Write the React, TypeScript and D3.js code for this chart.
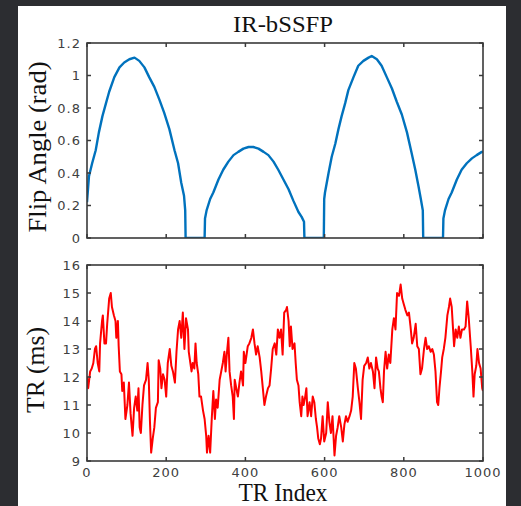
import React from "react";
import * as d3 from "d3";

// Flip angle series (TR index, rad)
const faIdx = [0, 5, 13, 22, 30, 39, 48, 56, 69, 82, 94, 107, 120, 132, 145, 157, 170, 183, 195, 208, 221, 230, 238, 245, 248, 249, 297, 298, 302, 311, 319, 332, 344, 357, 370, 382, 395, 408, 420, 433, 446, 458, 471, 483, 496, 509, 521, 534, 542, 548, 549, 598, 599, 601, 610, 618, 627, 635, 643, 652, 660, 673, 685, 698, 711, 719, 732, 744, 757, 770, 782, 795, 808, 820, 829, 837, 843, 848, 849, 899, 900, 904, 913, 921, 934, 946, 959, 972, 984, 997, 1000];
const faRad = [0.22, 0.38, 0.46, 0.54, 0.65, 0.75, 0.83, 0.9, 0.99, 1.05, 1.08, 1.1, 1.11, 1.09, 1.05, 0.99, 0.93, 0.85, 0.77, 0.67, 0.54, 0.46, 0.34, 0.26, 0.17, 0, 0, 0.12, 0.17, 0.24, 0.28, 0.36, 0.42, 0.47, 0.51, 0.53, 0.55, 0.56, 0.56, 0.55, 0.53, 0.51, 0.47, 0.42, 0.36, 0.3, 0.23, 0.16, 0.13, 0.1, 0, 0, 0.24, 0.28, 0.4, 0.5, 0.58, 0.67, 0.75, 0.83, 0.91, 0.99, 1.06, 1.09, 1.11, 1.12, 1.1, 1.06, 0.99, 0.92, 0.84, 0.76, 0.65, 0.52, 0.42, 0.32, 0.24, 0.17, 0, 0, 0.12, 0.17, 0.24, 0.28, 0.36, 0.42, 0.46, 0.49, 0.51, 0.53, 0.53];

// TR series (TR index, ms)
const trIdx = [0, 3, 8, 12, 16, 20, 23, 27, 31, 33, 38, 40, 44, 48, 51, 56, 60, 63, 68, 72, 74, 78, 80, 83, 87, 89, 93, 97, 102, 106, 110, 115, 119, 123, 127, 130, 133, 136, 140, 144, 149, 153, 156, 159, 162, 166, 170, 174, 179, 181, 185, 188, 192, 196, 200, 204, 209, 213, 217, 222, 226, 230, 234, 238,
  242, 246, 250, 255, 257, 261, 264, 267, 271, 274, 277, 281, 284, 288, 293, 297, 301, 303, 307, 311, 315, 319, 323, 326, 330, 335, 339, 343, 347, 350, 353, 357, 360, 364, 368, 371, 373, 377, 381, 385, 389, 394, 396, 400, 406, 410, 415, 419, 423, 427, 431, 436, 440, 444, 448, 452, 457, 461, 465, 469, 474, 478, 482, 486,
  490, 494, 498, 503, 505, 509, 512, 515, 519, 524, 527, 530, 534, 537, 541, 544, 547, 551, 554, 557, 562, 566, 570, 574, 578, 581, 584, 588, 591, 595, 599, 604, 608, 612, 616, 620, 625, 629, 633, 637, 642, 646, 650, 654, 658, 663, 667, 671, 675, 679, 684, 688, 692, 696, 700, 705, 709, 713, 717, 722, 726, 730, 734,
  737, 741, 744, 747, 750, 754, 758, 762, 766, 771, 775, 779, 783, 788, 792, 796, 800, 804, 809, 813, 817, 821, 825, 830, 834, 838, 842, 846, 851, 855, 859, 863, 868, 872, 876, 880, 884, 887, 890, 894, 897, 901, 905, 910, 914, 917, 921, 924, 927, 931, 935, 939, 943, 947, 952, 956, 960, 964, 969, 973, 976, 979, 983, 986, 990, 994, 998, 1000];
const trMs = [12.0, 11.6, 12.2, 12.3, 12.5, 13.0, 13.1, 12.5, 12.2, 13.2, 14.0, 14.2, 13.2, 13.2, 13.9, 14.8, 15.0, 14.5, 14.2, 14.0, 13.4, 14.0, 13.1, 12.2, 12.1, 11.5, 11.8, 10.5, 11.0, 11.8, 10.7, 9.9, 10.9, 11.3, 10.8, 11.6, 10.2, 10.0, 11.0, 11.7, 11.9, 12.5, 11.9, 10.4, 9.3, 9.8, 10.2, 10.9, 11.1, 12.6, 12.3, 11.6, 12.1, 11.9, 11.3, 12.5, 13.0, 12.4, 12.2, 11.8, 12.9, 13.7, 14.0, 13.4,
  14.3, 13.0, 14.1, 13.7, 12.9, 12.5, 12.2, 12.5, 12.3, 13.2, 12.5, 12.1, 11.3, 11.3, 10.8, 10.5, 9.9, 9.3, 9.9, 9.3, 10.5, 11.5, 10.5, 11.2, 10.9, 11.9, 12.2, 12.5, 12.9, 12.2, 12.8, 13.4, 12.2, 11.7, 11.3, 10.5, 11.9, 11.6, 11.3, 11.8, 12.2, 11.7, 12.9, 12.5, 13.1, 13.2, 13.4, 13.7, 13.2, 12.8, 13.1, 12.7, 12.2, 11.6, 11.0, 11.3, 11.6, 11.7, 12.3, 13.0, 13.2, 12.8, 13.7, 13.4,
  13.7, 12.8, 14.3, 14.4, 14.5, 14.0, 13.1, 13.8, 13.0, 13.2, 12.5, 11.9, 11.7, 11.1, 10.6, 11.3, 11.0, 11.3, 11.6, 10.6, 11.1, 10.6, 11.3, 11.1, 10.5, 10.2, 9.8, 9.6, 9.8, 10.6, 9.7, 10.0, 11.1, 10.4, 10.0, 10.6, 9.2, 9.9, 10.2, 10.6, 10.2, 9.7, 10.3, 10.6, 10.4, 10.6, 10.8, 11.3, 12.5, 12.3, 11.6, 11.1, 10.5, 11.9, 12.4, 12.5, 12.7, 12.3, 12.5, 12.2, 11.6, 12.7, 12.3,
  12.2, 11.6, 11.3, 11.1, 12.2, 12.9, 12.3, 12.8, 12.5, 13.7, 14.1, 13.7, 15.0, 14.9, 15.3, 14.8, 14.6, 14.4, 14.2, 14.3, 13.8, 13.2, 13.4, 13.9, 13.1, 13.0, 12.1, 12.3, 13.0, 13.4, 13.0, 13.1, 12.9, 13.0, 12.8, 12.2, 11.1, 11.0, 11.6, 12.2, 12.7, 13.0, 13.4, 14.2, 14.5, 14.8, 14.5, 13.8, 13.1, 13.7, 13.4, 13.8, 13.4, 13.7, 13.7, 13.8, 14.7, 14.1, 13.1, 12.2, 11.3, 12.1, 12.4, 13.0, 12.5, 12.3, 11.6, 11.5];

const xTicks = [0, 200, 400, 600, 800, 1000];
const faTicks = [0, 0.2, 0.4, 0.6, 0.8, 1, 1.2];
const trTicks = [9, 10, 11, 12, 13, 14, 15, 16];

const TICK_FONT = "'DejaVu Sans', Verdana, sans-serif";
const SERIF = "'Liberation Serif', 'Times New Roman', serif";
const AX = "#3a3a3a";

function Panel({ y, data, color, width, ticks, showX, clipId }: any) {
  const L = 87, R = 483;
  const x = d3.scaleLinear().domain([0, 1000]).range([L, R]);
  const [top, bot] = [y.range()[1], y.range()[0]];
  const line = d3.line<[number, number]>().x((d) => x(d[0])).y((d) => y(d[1]));
  const tl = 4;
  return (
    <g>
      <defs>
        <clipPath id={clipId}>
          <rect x={L} y={top - 2} width={R - L} height={bot - top + 2} />
        </clipPath>
      </defs>
      <path d={line(data) || ""} fill="none" stroke={color} strokeWidth={width} strokeLinejoin="round" clipPath={`url(#${clipId})`} />
      {xTicks.map((t) => (
        <g key={"x" + t}>
          <line x1={x(t)} x2={x(t)} y1={bot} y2={bot - tl} stroke={AX} strokeWidth={1.5} />
          <line x1={x(t)} x2={x(t)} y1={top} y2={top + tl} stroke={AX} strokeWidth={1.5} />
          {showX && (
            <text x={x(t)} y={477} textAnchor="middle" fontFamily={TICK_FONT} fontSize={13} letterSpacing={1} fill="#404040">
              {t}
            </text>
          )}
        </g>
      ))}
      {ticks.map((t: number) => (
        <g key={"y" + t}>
          <line x1={L} x2={L + tl} y1={y(t)} y2={y(t)} stroke={AX} strokeWidth={1.5} />
          <line x1={R} x2={R - tl} y1={y(t)} y2={y(t)} stroke={AX} strokeWidth={1.5} />
          <text x={81} y={y(t) + 4.5} textAnchor="end" fontFamily={TICK_FONT} fontSize={13} letterSpacing={1} fill="#404040">
            {String(t)}
          </text>
        </g>
      ))}
      <rect x={L} y={top} width={R - L} height={bot - top} fill="none" stroke={AX} strokeWidth={1.6} />
    </g>
  );
}

export default function App() {
  const W = 521, H = 506;
  const y1 = d3.scaleLinear().domain([0, 1.2]).range([238, 43]);
  const y2 = d3.scaleLinear().domain([9, 16]).range([461, 265]);
  const fa: [number, number][] = faIdx.map((v, i) => [v, faRad[i]]);
  const tr: [number, number][] = trIdx.map((v, i) => [v, trMs[i]]);
  return (
    <svg width={W} height={H} style={{ position: "absolute", left: 0, top: 0, display: "block" }}>
      <rect x={0} y={0} width={W} height={H} fill="#2c2d31" />
      <rect x={18} y={6} width={488} height={H - 6} fill="#ffffff" />
      <text x={283} y={32} textAnchor="middle" fontFamily={SERIF} fontSize={23} textLength={100} lengthAdjust="spacingAndGlyphs" fill="#111">
        IR-bSSFP
      </text>
      <Panel y={y1} data={fa} color="#0072BD" width={2.4} ticks={faTicks} showX={false} clipId="c1" />
      <Panel y={y2} data={tr} color="#ff0000" width={2} ticks={trTicks} showX={true} clipId="c2" />
      <text transform="translate(46,147) rotate(-90)" textAnchor="middle" fontFamily={SERIF} fontSize={26} textLength={171} lengthAdjust="spacingAndGlyphs" fill="#111">
        Flip Angle (rad)
      </text>
      <text transform="translate(44,370) rotate(-90)" textAnchor="middle" fontFamily={SERIF} fontSize={26} textLength={86} lengthAdjust="spacingAndGlyphs" fill="#111">
        TR (ms)
      </text>
      <text x={283} y={501} textAnchor="middle" fontFamily={SERIF} fontSize={25} textLength={89} lengthAdjust="spacingAndGlyphs" fill="#111">
        TR Index
      </text>
    </svg>
  );
}
